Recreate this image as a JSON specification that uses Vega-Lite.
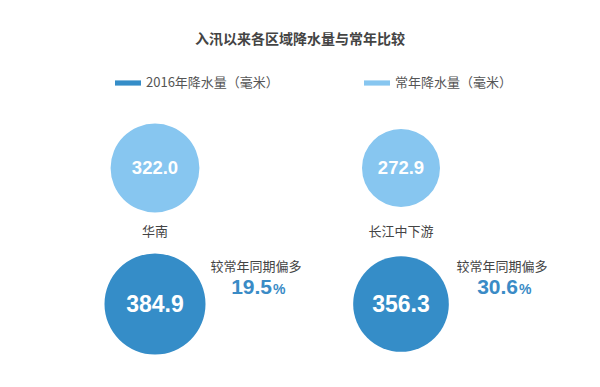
{
  "$schema": "https://vega.github.io/schema/vega-lite/v6.json",
  "width": 600,
  "height": 387,
  "autosize": {"type": "none"},
  "padding": 0,
  "background": "white",
  "title": {"text": "入汛以来各区域降水量与常年比较", "font": "Noto Sans CJK SC", "fontSize": 14, "fontWeight": "bold", "color": "#444444", "anchor": "middle", "offset": -47},
  "config": {"view": {"stroke": null}},
  "datasets": {
    "rain": [
      {"region": "华南", "series": "常年降水量（毫米）", "value": 322.0},
      {"region": "华南", "series": "2016年降水量（毫米）", "value": 384.9},
      {"region": "长江中下游", "series": "常年降水量（毫米）", "value": 272.9},
      {"region": "长江中下游", "series": "2016年降水量（毫米）", "value": 356.3}
    ],
    "diff": [
      {"region": "华南", "series": "2016年降水量（毫米）", "note": "较常年同期偏多", "pct": "19.5", "unit": "%"},
      {"region": "长江中下游", "series": "2016年降水量（毫米）", "note": "较常年同期偏多", "pct": "30.6", "unit": "%"}
    ]
  },
  "encoding": {
    "x": {"field": "region", "type": "nominal", "scale": {"type": "point", "domain": ["华南", "长江中下游"], "range": [155, 401], "padding": 0}, "axis": null},
    "y": {"field": "series", "type": "nominal", "scale": {"type": "point", "domain": ["常年降水量（毫米）", "2016年降水量（毫米）"], "range": [168, 304], "padding": 0}, "axis": null}
  },
  "layer": [
    {
      "data": {"name": "rain"},
      "mark": {"type": "circle", "opacity": 1},
      "encoding": {
        "size": {"field": "value", "type": "quantitative", "scale": {"domain": [200, 400], "range": [3400, 10760], "zero": false}, "legend": null},
        "color": {"field": "series", "type": "nominal", "scale": {"domain": ["2016年降水量（毫米）", "常年降水量（毫米）"], "range": ["#358DC8", "#87C6F0"]},
          "legend": {"title": null, "orient": "none", "legendX": 115, "legendY": 70, "direction": "horizontal", "symbolType": "M-1,-0.2H1V0.2H-1Z", "symbolSize": 676, "symbolStrokeWidth": 0, "symbolOpacity": 1, "labelFont": "Noto Sans CJK SC", "labelFontSize": 13, "labelColor": "#555555", "labelOffset": 5, "columnPadding": 85, "padding": 0, "labelLimit": 300}}
      }
    },
    {
      "data": {"name": "rain"},
      "transform": [{"filter": "datum.series === '常年降水量（毫米）'"}],
      "mark": {"type": "text", "font": "Liberation Sans", "fontWeight": "bold", "fontSize": 18.5, "color": "white", "baseline": "middle", "align": "center"},
      "encoding": {"text": {"field": "value", "type": "quantitative", "format": ".1f"}}
    },
    {
      "data": {"name": "rain"},
      "transform": [{"filter": "datum.series === '2016年降水量（毫米）'"}],
      "mark": {"type": "text", "font": "Liberation Sans", "fontWeight": "bold", "fontSize": 23, "color": "white", "baseline": "middle", "align": "center", "dy": 1},
      "encoding": {"text": {"field": "value", "type": "quantitative", "format": ".1f"}}
    },
    {
      "data": {"name": "rain"},
      "transform": [{"filter": "datum.series === '常年降水量（毫米）'"}],
      "mark": {"type": "text", "font": "Noto Sans CJK SC", "fontSize": 13, "color": "#444444", "baseline": "middle", "align": "center", "dy": 64},
      "encoding": {"text": {"field": "region", "type": "nominal"}}
    },
    {
      "data": {"name": "diff"},
      "mark": {"type": "text", "font": "Noto Sans CJK SC", "fontSize": 13, "color": "#444444", "baseline": "middle", "align": "center", "dx": 101, "dy": -37},
      "encoding": {"text": {"field": "note", "type": "nominal"}}
    },
    {
      "data": {"name": "diff"},
      "mark": {"type": "text", "font": "Liberation Sans", "fontWeight": "bold", "fontSize": 21, "color": "#3A8BC6", "baseline": "alphabetic", "align": "right", "dx": 117, "dy": -10},
      "encoding": {"text": {"field": "pct", "type": "nominal"}}
    },
    {
      "data": {"name": "diff"},
      "mark": {"type": "text", "font": "Liberation Sans", "fontWeight": "bold", "fontSize": 14, "color": "#3A8BC6", "baseline": "alphabetic", "align": "left", "dx": 118, "dy": -10},
      "encoding": {"text": {"field": "unit", "type": "nominal"}}
    }
  ]
}
